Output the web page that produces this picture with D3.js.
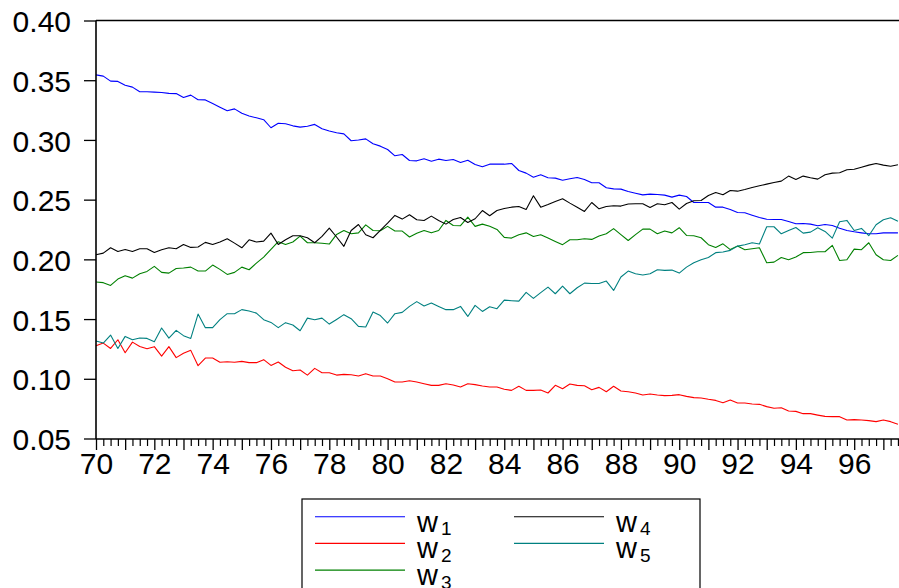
<!DOCTYPE html>
<html><head><meta charset="utf-8">
<script src="https://cdn.jsdelivr.net/npm/d3@7"></script>
<style>body{margin:0;background:#fff}svg{display:block}text{font-family:"Liberation Sans",Arial,sans-serif}</style>
</head><body>
<svg id="c" width="899" height="588"></svg>
<script>
const startYear = 70;            // 1970Q1, quarterly observations
const seriesNames = ["w1","w2","w3","w4","w5"];
const seriesColors = ["#0000ff","#ff0000","#008000","#000000","#008080"];
const yTicks = [0.05,0.10,0.15,0.20,0.25,0.30,0.35,0.40];
const xLabelYears = [70,72,74,76,78,80,82,84,86,88,90,92,94,96];

const w1 = [0.3545,0.3534,0.3492,0.349,0.3458,0.3442,0.3403,0.3403,0.340,0.3397,0.339,0.3388,0.3355,0.3375,0.3336,0.3335,0.3305,0.3274,0.3244,0.326,
0.3224,0.320,0.3185,0.3169,0.3102,0.314,0.3135,0.3118,0.3107,0.3115,0.313,0.3094,0.3075,0.306,0.3051,0.2993,0.300,0.3009,0.2968,0.2948,
0.292,0.2867,0.2878,0.2828,0.2825,0.2842,0.2822,0.2839,0.2828,0.2836,0.2811,0.2830,0.2794,0.2775,0.2797,0.2797,0.2797,0.2803,0.2744,0.2722,
0.2688,0.2708,0.2683,0.2680,0.2663,0.2675,0.2686,0.2669,0.2641,0.2641,0.2599,0.259,0.2588,0.2568,0.2554,0.2540,0.2546,0.2543,0.2538,0.2521,
0.2538,0.2526,0.2476,0.2476,0.2476,0.2437,0.2437,0.2418,0.2392,0.2390,0.2370,0.2351,0.2336,0.2334,0.2334,0.2317,0.2298,0.230,0.2295,0.2281,
0.2292,0.2284,0.2261,0.2242,0.2231,0.2222,0.2214,0.2214,0.2222,0.2222,0.2222];
const w2 = [0.1277,0.1299,0.1254,0.1327,0.1218,0.1307,0.1271,0.1252,0.1269,0.1190,0.1269,0.1177,0.1213,0.1238,0.1110,0.1174,0.1174,0.1138,0.1143,0.1138,
0.1146,0.1135,0.1135,0.1160,0.1112,0.1140,0.1096,0.1067,0.1073,0.1031,0.1087,0.1051,0.1051,0.1031,0.1037,0.1034,0.1023,0.1043,0.1023,0.1023,
0.1001,0.0973,0.0973,0.0984,0.0973,0.0959,0.0945,0.0945,0.0959,0.0948,0.0931,0.0959,0.0951,0.0939,0.0931,0.0931,0.0912,0.0903,0.0937,0.0903,
0.0903,0.0906,0.0881,0.0945,0.0917,0.0956,0.0945,0.0942,0.0909,0.0928,0.0892,0.0937,0.0898,0.0892,0.0881,0.0864,0.0872,0.0864,0.0859,0.0861,
0.0867,0.0853,0.0842,0.0839,0.0828,0.0819,0.0800,0.0822,0.0797,0.0797,0.0789,0.0786,0.0767,0.0753,0.0758,0.0730,0.0727,0.0708,0.0708,0.0696,
0.0685,0.0683,0.0683,0.0655,0.0658,0.0655,0.0650,0.0641,0.0655,0.0641,0.0619];
const w3 = [0.1810,0.1805,0.1782,0.1835,0.1863,0.1843,0.1880,0.1899,0.1941,0.1891,0.1885,0.1924,0.1927,0.1935,0.1902,0.1902,0.1952,0.1916,0.1874,0.1891,
0.1935,0.1913,0.1969,0.2019,0.2083,0.2148,0.2125,0.2145,0.2195,0.2139,0.2139,0.2135,0.2128,0.2209,0.2242,0.2214,0.2222,0.2289,0.2242,0.2240,
0.2276,0.2237,0.2237,0.2187,0.2218,0.2242,0.2222,0.2242,0.2326,0.2284,0.2282,0.2354,0.2276,0.2295,0.2278,0.2251,0.2184,0.2178,0.2206,0.2222,
0.2192,0.2206,0.2178,0.2150,0.2123,0.2164,0.2164,0.2173,0.2167,0.2195,0.2214,0.2257,0.2207,0.2158,0.2207,0.2253,0.2253,0.2214,0.2237,0.2222,
0.2265,0.2200,0.2198,0.2181,0.2123,0.2100,0.2130,0.2082,0.2111,0.2081,0.2089,0.2097,0.1972,0.1977,0.2016,0.1997,0.2019,0.2056,0.2058,0.2064,
0.2064,0.2117,0.1991,0.1997,0.2086,0.2081,0.2139,0.2039,0.1997,0.1991,0.2033];
const w4 = [0.2039,0.2052,0.2097,0.2066,0.2083,0.2066,0.2089,0.2089,0.2058,0.2081,0.2097,0.2089,0.2125,0.2100,0.2103,0.2142,0.2125,0.2145,0.2173,0.2136,
0.2097,0.2164,0.2145,0.2153,0.2220,0.2125,0.2164,0.2198,0.2198,0.2181,0.2139,0.2192,0.2262,0.2187,0.2109,0.2242,0.2292,0.2206,0.2181,0.2242,
0.2303,0.2368,0.2337,0.2374,0.2332,0.2326,0.2362,0.2326,0.2295,0.2334,0.2351,0.2309,0.2340,0.2409,0.2365,0.2409,0.2426,0.2437,0.2443,0.2418,
0.2533,0.2437,0.2460,0.2485,0.2507,0.2471,0.2437,0.2401,0.2476,0.2423,0.2443,0.2449,0.2446,0.2463,0.2466,0.2466,0.2435,0.2466,0.2457,0.2476,
0.2421,0.2468,0.2491,0.2493,0.2535,0.2560,0.2541,0.2577,0.2571,0.2585,0.2602,0.2616,0.2630,0.2644,0.2655,0.2697,0.2669,0.2697,0.2683,0.2672,
0.2708,0.2722,0.2725,0.2750,0.2755,0.2772,0.2789,0.2803,0.2789,0.2780,0.2792];
const w5 = [0.1316,0.1299,0.1366,0.1254,0.1355,0.1327,0.1341,0.1338,0.1311,0.1425,0.1341,0.1405,0.1361,0.1338,0.1542,0.1428,0.1428,0.1495,0.1545,0.1545,
0.1579,0.1567,0.1550,0.1495,0.1472,0.1428,0.1470,0.1450,0.1402,0.1508,0.1495,0.1508,0.1458,0.1497,0.1537,0.1503,0.1439,0.1434,0.1559,0.1529,
0.1467,0.1545,0.1556,0.1606,0.1646,0.1609,0.1634,0.1606,0.1579,0.1579,0.1606,0.1522,0.1615,0.1564,0.1603,0.1587,0.1659,0.1654,0.1650,0.1723,
0.1673,0.1721,0.1768,0.1712,0.1776,0.1712,0.1762,0.1801,0.1798,0.1798,0.1818,0.1740,0.1852,0.1902,0.1880,0.1869,0.1880,0.1913,0.1908,0.1910,
0.1885,0.1935,0.1972,0.1997,0.2016,0.2056,0.2061,0.2075,0.2111,0.2123,0.2139,0.2128,0.2273,0.2273,0.2214,0.2242,0.2267,0.2220,0.2228,0.2265,
0.2234,0.2178,0.2315,0.2326,0.2242,0.2259,0.2198,0.2290,0.2332,0.2349,0.2320];

const seriesValues = [w1,w2,w3,w4,w5];

const svg = d3.select("#c");
const plotLeft = 96, plotTop = 20.5, plotBottom = 438.5;
const x = d3.scaleLinear().domain([70, 96]).range([plotLeft, 854.2]);
const y = d3.scaleLinear().domain([0.05, 0.40]).range([plotBottom, plotTop]);
const axisY = 439;
const fontStack = "'Liberation Sans',Arial,sans-serif";

// series lines
const line = d3.line().x((d,i)=>x(startYear + i/4)).y(d=>y(d));
const plot = svg.append("g");
seriesValues.forEach((vals,k)=>{
  plot.append("path").attr("d", line(vals)).attr("fill","none")
    .attr("stroke", seriesColors[k]).attr("stroke-width",1.1).attr("stroke-linejoin","round");
});

// frame (right edge lies outside the visible area)
svg.append("line").attr("x1",plotLeft).attr("x2",905).attr("y1",plotTop).attr("y2",plotTop).attr("stroke","#000").attr("stroke-width",1.6);
svg.append("line").attr("x1",plotLeft).attr("x2",plotLeft).attr("y1",plotTop).attr("y2",axisY).attr("stroke","#000").attr("stroke-width",1.6);
svg.append("line").attr("x1",plotLeft).attr("x2",905).attr("y1",axisY).attr("y2",axisY).attr("stroke","#000").attr("stroke-width",1.6);

// y axis
const gy = svg.append("g").attr("transform",`translate(${plotLeft},0)`)
  .call(d3.axisLeft(y).tickValues(yTicks).tickFormat(d3.format(".2f")).tickSize(12).tickPadding(13));
gy.select(".domain").remove();
gy.selectAll("line").attr("stroke","#000").attr("stroke-width",1.3);
gy.selectAll("text").attr("font-size",30).attr("dy","0.37em").attr("fill","#000").style("font-family",fontStack);

// x axis: quarterly minor ticks
const quarters = d3.range(0, 112).map(i=>startYear + i/4).filter(v=>v%1!==0);
const gxm = svg.append("g").attr("transform",`translate(0,${axisY})`)
  .call(d3.axisBottom(x).tickValues(quarters).tickFormat("").tickSize(7));
gxm.select(".domain").remove();
gxm.selectAll("line").attr("stroke","#000").attr("stroke-width",1.2);

const years = d3.range(70, 98);
const gx = svg.append("g").attr("transform",`translate(0,${axisY})`)
  .call(d3.axisBottom(x).tickValues(years).tickFormat(d=>xLabelYears.includes(d)?String(d):"").tickSize(11).tickPadding(3));
gx.select(".domain").remove();
gx.selectAll("line").attr("stroke","#000").attr("stroke-width",1.3);
gx.selectAll("text").attr("font-size",30).attr("fill","#000").style("font-family",fontStack);

// legend
const lg = svg.append("g");
lg.append("rect").attr("x",302).attr("y",499).attr("width",398).attr("height",100)
  .attr("fill","#fff").attr("stroke","#000").attr("stroke-width",1.2);
const legendPos = [[0,0],[0,1],[0,2],[1,0],[1,1]];
seriesNames.forEach((name,k)=>{
  const [col,row] = legendPos[k];
  const lx = col===0 ? 315 : 514;
  const tx = col===0 ? 417 : 616;
  const ly = 516.7 + row*26.7;
  lg.append("line").attr("x1",lx).attr("x2",lx+90).attr("y1",ly).attr("y2",ly)
    .attr("stroke",seriesColors[k]).attr("stroke-width",1.1);
  const t = lg.append("text").attr("x",tx).attr("y",ly+15).attr("font-size",29).attr("fill","#000");
  t.append("tspan").text(name[0]);
  t.append("tspan").attr("dx",3).attr("dy",3.5).attr("font-size",19).text(name.slice(1));
});
</script>
</body></html>
